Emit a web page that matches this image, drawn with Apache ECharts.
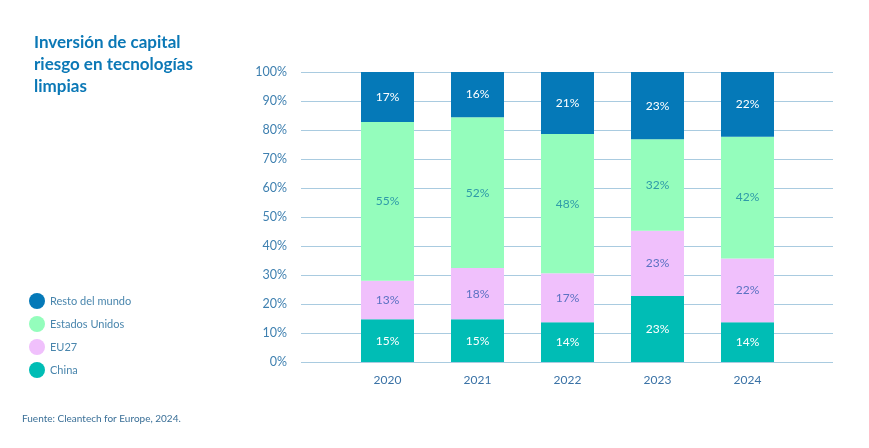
<!DOCTYPE html>
<html>
<head>
<meta charset="utf-8">
<script src="https://cdn.jsdelivr.net/npm/echarts@6/dist/echarts.min.js"></script>
<style>
html,body{margin:0;padding:0;background:#fff;}
#c{width:869px;height:448px;}
</style>
</head>
<body>
<div id="c"></div>
<script>
const years = ['2020', '2021', '2022', '2023', '2024'];
const china = [14.7, 14.7, 13.7, 22.8, 13.7];
const eu27 = [13.3, 17.7, 16.9, 22.5, 22.0];
const estadosUnidos = [54.8, 52.0, 48.0, 31.5, 42.0];
const restoMundo = [17.2, 15.6, 21.4, 23.2, 22.3];
const yTicks = [0, 10, 20, 30, 40, 50, 60, 70, 80, 90, 100];

const FONT = 'Lato, "Open Sans", sans-serif';
const chart = echarts.init(document.getElementById('c'));

function mkSeries(name, data, color, labelColor) {
  return {
    name: name,
    type: 'bar',
    stack: 'total',
    xAxisIndex: 0,
    yAxisIndex: 0,
    barWidth: 53,
    data: data,
    itemStyle: { color: color },
    label: {
      show: true,
      position: 'inside',
      color: labelColor,
      fontFamily: FONT,
      fontSize: 12,
      formatter: p => Math.round(p.value) + '%'
    },
    emphasis: { disabled: true }
  };
}

chart.setOption({
  animation: false,
  backgroundColor: '#fff',
  title: {
    text: 'Inversión de capital\nriesgo en tecnologías\nlimpias',
    left: 29,
    top: 27,
    textStyle: {
      color: '#0b78b6',
      fontFamily: FONT,
      fontWeight: 'bold',
      fontSize: 17,
      lineHeight: 22
    }
  },
  graphic: [{
    type: 'text',
    left: 22,
    top: 414,
    style: {
      text: 'Fuente: Cleantech for Europe, 2024.',
      fill: '#3a6f97',
      font: '10px ' + FONT
    }
  }],
  legend: {
    orient: 'vertical',
    left: 24,
    top: 288,
    itemGap: 7,
    itemWidth: 16,
    itemHeight: 16,
    icon: 'circle',
    data: ['Resto del mundo', 'Estados Unidos', 'EU27', 'China'],
    textStyle: { color: '#4a86ad', fontFamily: FONT, fontSize: 11 },
    selectedMode: false
  },
  grid: [
    { left: 342.5, width: 450, top: 72, height: 290 },
    { left: 301, right: 36, top: 72, height: 290 }
  ],
  xAxis: [
    {
      type: 'category',
      gridIndex: 0,
      data: years,
      axisLine: { show: false },
      axisTick: { show: false },
      axisLabel: { color: '#3a72a6', fontFamily: FONT, fontSize: 12, margin: 12 }
    },
    { type: 'value', gridIndex: 1, min: 0, max: 1, show: false }
  ],
  yAxis: [
    { type: 'value', gridIndex: 0, min: 0, max: 100, show: false },
    {
      type: 'value',
      gridIndex: 1,
      min: 0,
      max: 100,
      interval: 10,
      axisLine: { show: false },
      axisTick: { show: false },
      splitLine: { lineStyle: { color: '#a9cbe0', width: 1 } },
      axisLabel: {
        color: '#3f80b0',
        fontFamily: FONT,
        fontSize: 12.5,
        margin: 14,
        padding: [5, 0, 0, 0],
        formatter: v => yTicks.includes(v) ? v + '%' : ''
      }
    }
  ],
  series: [
    mkSeries('China', china, '#00bdb5', '#ffffff'),
    mkSeries('EU27', eu27, '#f0c0fc', '#5b72c2'),
    mkSeries('Estados Unidos', estadosUnidos, '#94fdbc', '#2f9aa8'),
    mkSeries('Resto del mundo', restoMundo, '#0579b8', '#ffffff')
  ]
});
</script>
</body>
</html>
